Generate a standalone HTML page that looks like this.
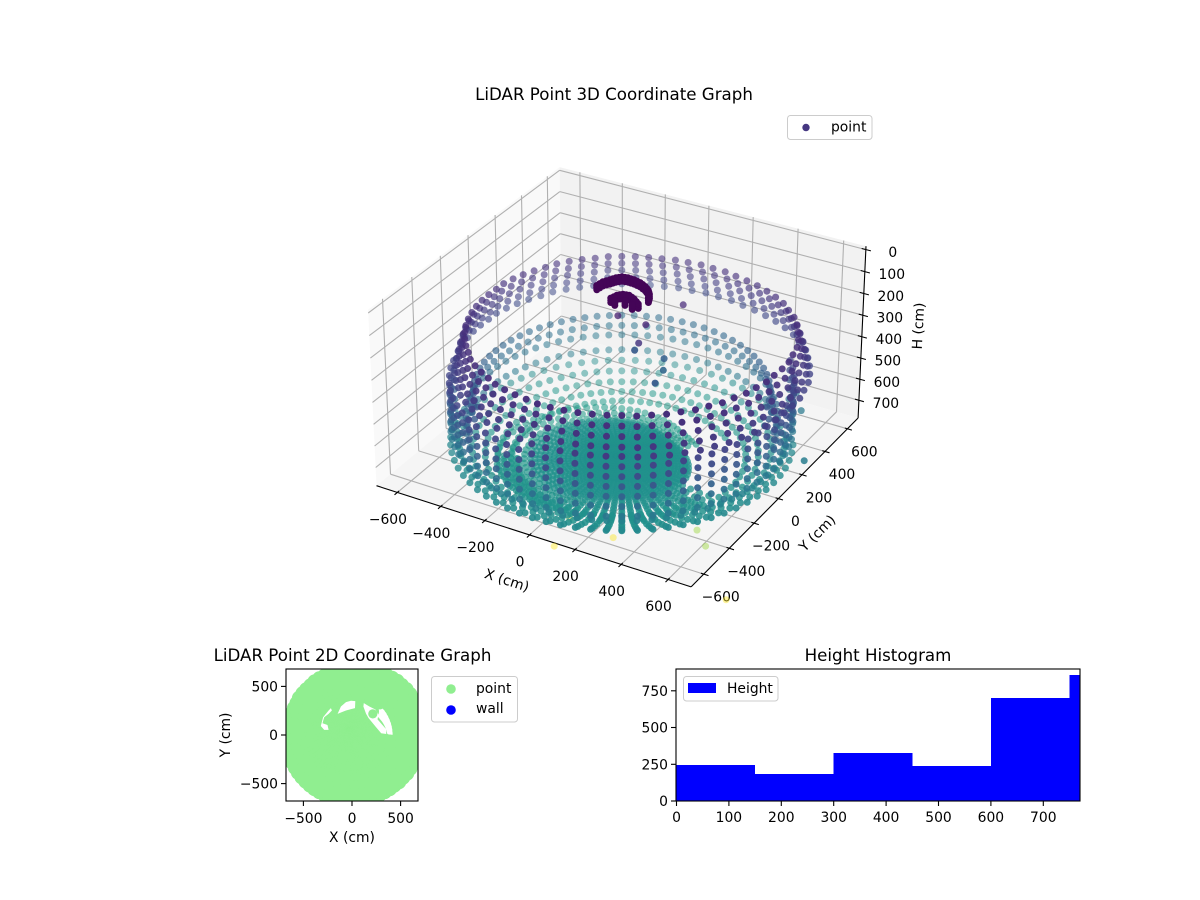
<!DOCTYPE html>
<html>
<head>
<meta charset="utf-8">
<title>LiDAR Point Graphs</title>
<style>
html,body{margin:0;padding:0;background:#fff;}
svg{display:block;}
text{font-family:"DejaVu Sans","Liberation Sans",sans-serif;font-size:13.89px;fill:#000;}
.title{font-size:16.67px;}
</style>
</head>
<body>
<svg id="chart" width="1200" height="900" viewBox="0 0 1200 900" xmlns="http://www.w3.org/2000/svg">
<defs><clipPath id="clip2d"><rect x="286" y="669" width="132" height="132"/></clipPath></defs>
<rect x="0" y="0" width="1200" height="900" fill="#ffffff"/>
<text class="title" x="614" y="100" text-anchor="middle">LiDAR Point 3D Coordinate Graph</text>
<g id="axes3d"></g>
<g id="points3d"></g>
<text transform="translate(507,580) rotate(18)" text-anchor="middle" y="5">X (cm)</text>
<text transform="translate(817,533) rotate(-45)" text-anchor="middle" y="5">Y (cm)</text>
<text transform="translate(918,326) rotate(-87)" text-anchor="middle" y="5">H (cm)</text>
<g>
<rect x="787.5" y="115.5" width="84.5" height="24" rx="3" fill="#fff" fill-opacity="0.8" stroke="#cccccc" stroke-width="1"/>
<circle cx="806" cy="127.5" r="3.7" fill="#453781"/>
<text x="831" y="131.5">point</text>
</g>

<text class="title" x="352.5" y="661" text-anchor="middle">LiDAR Point 2D Coordinate Graph</text>
<g id="plot2d" clip-path="url(#clip2d)"></g>
<g id="axes2d"></g>
<text x="352" y="842" text-anchor="middle">X (cm)</text>
<text transform="translate(225,735) rotate(-90)" text-anchor="middle" y="5">Y (cm)</text>
<g>
<rect x="431.5" y="676.5" width="86" height="45.5" rx="3" fill="#fff" fill-opacity="0.8" stroke="#cccccc" stroke-width="1"/>
<circle cx="451" cy="689" r="4.8" fill="#90ee90"/>
<text x="476" y="693">point</text>
<circle cx="451" cy="710" r="4.8" fill="#0000ff"/>
<text x="476" y="713">wall</text>
</g>

<text class="title" x="878" y="661" text-anchor="middle">Height Histogram</text>
<g id="hist"></g>
<g>
<rect x="683.5" y="676.5" width="94.5" height="24.5" rx="3" fill="#fff" fill-opacity="0.8" stroke="#cccccc" stroke-width="1"/>
<rect x="688" y="683" width="28" height="10" fill="#0000ff"/>
<text x="727" y="693">Height</text>
</g>

<script>
// ---- chart data ----
const azimuths = [0,5,10,15,20,25,30,35,40,45,50,55,60,65,70,75,80,85,90,95,100,105,110,115,120,125,130,135,140,145,150,155,160,165,170,175,180,185,190,195,200,205,210,215,220,225,230,235,240,245,250,255,260,265,270,275,280,285,290,295,300,305,310,315,320,325,330,335,340,345,350,355];
const rimScale = [1.06,1.07,1.08,1.08,1.09,1.09,1.09,1.09,1.09,1.08,1.08,1.07,1.06,1.05,1.04,1.03,1.03,1.02,1.02,1.01,1.01,1,1,1,1,1,0.99,0.99,0.99,0.99,0.98,0.98,0.98,0.98,0.98,0.97,0.97,0.97,0.97,0.97,0.97,0.97,0.97,0.97,0.97,0.97,0.98,0.98,0.98,0.98,0.99,0.99,0.99,0.99,1,1,1,1,1,1,1,1.01,1.01,1.02,1.02,1.03,1.03,1.04,1.04,1.05,1.05,1.06];
const floorScale = [1,0.98,0.96,0.94,0.92,0.9,0.88,0.86,0.84,0.82,0.8,0.78,0.78,0.78,0.78,0.8,0.82,0.84,0.86,0.88,0.9,0.92,0.94,0.96,0.98,1,1.02,1.04,1.06,1.08,1.1,1.12,1.14,1.16,1.18,1.2,1.22,1.22,1.24,1.24,1.25,1.25,1.25,1.25,1.24,1.24,1.22,1.22,1.2,1.2,1.18,1.16,1.14,1.12,1.1,1.08,1.08,1.06,1.06,1.05,1.05,1.04,1.04,1.03,1.03,1.02,1.02,1.02,1.01,1.01,1,1];
const ringRadius = [626,638,650,661,670,580,590,611,611,650,675,640,590,540,490,465,440,417,395,372,350,330,310,290,275,260,245,230,215,200,185,170,155,140,125,110,95,80,65,50,35,20,8];
const ringHeight = [232,271,310,350,386,485,539,596,668,690,718,736,759,782,800,808,815,820,820,820,820,820,820,820,820,820,820,820,820,820,820,820,820,820,820,820,820,820,820,820,820,820,820];
const ringValueFront = [0.13,0.14,0.15,0.16,0.17,0.2,0.22,0.26,0.3,0.44,0.47,0.48,0.49,0.5,0.5,0.5,0.5,0.5,0.5,0.5,0.5,0.5,0.5,0.5,0.5,0.5,0.5,0.5,0.5,0.5,0.5,0.5,0.5,0.5,0.5,0.5,0.5,0.5,0.5,0.5,0.5,0.5,0.5];
const ringValueBack = [0.14,0.16,0.18,0.2,0.23,0.36,0.38,0.4,0.42,0.44,0.46,0.48,0.5,0.52,0.53,0.54,0.54,0.55,0.55,0.55,0.55,0.55,0.55,0.5,0.5,0.5,0.5,0.5,0.5,0.5,0.5,0.5,0.5,0.5,0.5,0.5,0.5,0.5,0.5,0.5,0.5,0.5,0.5];
const frontLeftOnlyRings = [15,17,19,21];
const frontLeftAzimuthFrom = -150;
const frontLeftAzimuthTo = -20;
const floorScaleFirstRing = 18;
const wallRadius = [672,672,672,672,672,672];
const wallHeight = [430,475,520,565,610,655];
const wallValue = [0.2,0.23,0.27,0.31,0.36,0.4];
const wallAzimuthFrom = -160;
const wallAzimuthTo = 40;
const gapAzimuthFrom = [-5,-130,30,-180];
const gapAzimuthTo = [45,10,180,-170];
const gapRingFrom = [15,5,9,9];
const gapRingTo = [22,8,10,10];
const blobX = [-266.5,-264,-261.6,-253.5,-245.4,-239,-232.5,-224.1,-215.7,-203.3,-190.9,-176.5,-162.1,-145.7,-129.3,-112.6,-95.9,-82.7,-69.4,-59.7,-49.9,-43.6,-37.4,-165.8,-161.4,-156.9,-148.5,-140.1,-127.7,-115.3,-98.7,-82,-65,-48,-139.9,-105.2,-64.8];
const blobY = [262.7,282.6,302.5,316.4,330.3,343.3,356.3,365.8,375.3,377.8,380.3,379.4,378.5,374.1,369.7,360.8,351.9,341,330.1,317.2,304.4,289.5,274.6,200.4,216.9,233.4,242.9,252.3,254.9,257.5,248.6,239.7,226.3,213,187.6,207.7,194];
const blobHeights = [222,232,242];
const strayX = [100.8,52.5,100.3,114.5,243.6,284.3,304.7,-77.4,605,785,524.6,70,21.4,234,486,568,805.6];
const strayY = [308,95,-43.9,-100.5,-100,-178.4,-277.7,103.5,362,34.5,477,-635,-438.8,-471,-265.5,-347.5,-624.5];
const strayH = [230,230,230,230,230,230,230,230,600,600,600,850,850,850,850,850,850];
const strayValue = [0.12,0.1,0.15,0.27,0.3,0.33,0.28,0.08,0.4,0.42,0.4,1,0.98,1,0.85,0.85,1];
const tick3dX = [-600,-400,-200,0,200,400,600];
const tick3dY = [-600,-400,-200,0,200,400,600];
const tick3dZ = [0,100,200,300,400,500,600,700];
const hole1X = [-148,-114,-62,-10,34,31,-10,-62,-114];
const hole1Y = [217,293,338,352,348,276,266,252,231];
const hole2X = [-241,-217,-207,-241,-286,-303,-252,-241,-286,-321,-297];
const hole2Y = [252,276,252,217,183,121,103,52,52,93,183];
const hole3X = [121,179,240,272,262,352,352,300,248,172,145,117];
const hole3Y = [328,293,262,207,160,59,10,17,79,172,217,293];
const loneX = [214];
const loneY = [217];
const tick2d = [-500,0,500];
const binEdges = [0,150,300,450,600,750,900];
const binCounts = [245,184,327,238,701,857];
const histTicksX = [0,100,200,300,400,500,600,700];
const histTicksY = [0,250,500,750];

// ---- helpers ----
const NS = 'http://www.w3.org/2000/svg';
function make(tag, parent){ const e = document.createElementNS(NS, tag); parent.appendChild(e); return e; }
const LIM = 697, ZTOP = -15, ZBOT = 785;
function project(x,y,z){
  const px = x/LIM*0.5952, py = y/LIM*0.5952, pz = (385-z)/400*0.3335;
  const xv = 0.866025*px + 0.5*py;
  const yv = -0.25*px + 0.433013*py + 0.866025*pz;
  const wv = 0.433013*px - 0.75*py + 0.5*pz;
  const d = 10 - wv;
  return {x: 621.8 + 3010*xv/d, y: 365.7 - 3010*yv/d, depth: wv};
}
const anchors = [[68,1,84],[72,36,117],[65,68,135],[53,95,141],[42,120,142],[33,145,140],[34,168,132],[68,191,112],[122,209,81],[189,223,38],[253,231,37]];
function viridis(c){
  c = Math.max(0, Math.min(1, c));
  const i = Math.min(9, Math.floor(c*10)), t = c*10 - i;
  const a = anchors[i], b = anchors[i+1];
  return 'rgb(' + [0,1,2].map(k => Math.round(a[k] + (b[k]-a[k])*t)).join(',') + ')';
}
function pts(list){ return list.map(p => p.x.toFixed(1)+','+p.y.toFixed(1)).join(' '); }

// ---- 3D axes ----
const g3 = document.getElementById('axes3d');
const LT = project(-LIM,-LIM,ZTOP), LB = project(-LIM,-LIM,ZBOT), BT = project(-LIM,LIM,ZTOP), BB = project(-LIM,LIM,ZBOT);
const RT = project(LIM,LIM,ZTOP), RB = project(LIM,LIM,ZBOT), FB = project(LIM,-LIM,ZBOT);
const leftPane = make('polygon', g3);


leftPane.setAttribute('points', pts([LT,BT,BB,LB]));
leftPane.setAttribute('fill', '#f9f9f9');
const rightPane = make('polygon', g3);


rightPane.setAttribute('points', pts([BT,RT,RB,BB]));
rightPane.setAttribute('fill', '#f2f2f2');
const floorPane = make('polygon', g3);


floorPane.setAttribute('points', pts([LB,BB,RB,FB]));
floorPane.setAttribute('fill', '#f5f5f5');

function line3(parent, a, b, color, width, name){
  const l = make('line', parent);
  
  
  l.setAttribute('x1', a.x.toFixed(1)); l.setAttribute('y1', a.y.toFixed(1));
  l.setAttribute('x2', b.x.toFixed(1)); l.setAttribute('y2', b.y.toFixed(1));
  l.setAttribute('stroke', color); l.setAttribute('stroke-width', width);
  return l;
}
function label(parent, x, y, txt, anchor, name){
  const t = make('text', parent);
  
  
  t.setAttribute('x', x.toFixed(1)); t.setAttribute('y', y.toFixed(1));
  t.setAttribute('text-anchor', anchor);
  t.textContent = String(txt).replace('-', '\u2212');
  return t;
}
tick3dX.forEach(v => {
  const a = project(v,-LIM,ZBOT), b = project(v,LIM,ZBOT), c = project(v,LIM,ZTOP);
  line3(g3, a, b, '#b0b0b0', 1.1, 'x-gridline');
  line3(g3, b, c, '#b0b0b0', 1.1, 'x-gridline');
});
tick3dY.forEach(v => {
  const a = project(LIM,v,ZBOT), b = project(-LIM,v,ZBOT), c = project(-LIM,v,ZTOP);
  line3(g3, a, b, '#b0b0b0', 1.1, 'y-gridline');
  line3(g3, b, c, '#b0b0b0', 1.1, 'y-gridline');
});
tick3dZ.forEach(v => {
  const a = project(-LIM,-LIM,v), b = project(-LIM,LIM,v), c = project(LIM,LIM,v);
  line3(g3, a, b, '#b0b0b0', 1.1, 'z-gridline');
  line3(g3, b, c, '#b0b0b0', 1.1, 'z-gridline');
});
line3(g3, LB, FB, '#000', 1.1, 'x-axis-line');
line3(g3, FB, RB, '#000', 1.1, 'y-axis-line');
line3(g3, RT, RB, '#000', 1.1, 'z-axis-line');
tick3dX.forEach(v => {
  line3(g3, project(v,-LIM-20,ZBOT), project(v,-LIM+12,ZBOT), '#000', 1.1, 'x-tick');
  const p = project(v,-LIM,ZBOT);
  label(g3, p.x-9.5, p.y+31.5, v, 'middle', 'x-tick-label');
});
tick3dY.forEach(v => {
  line3(g3, project(LIM-12,v,ZBOT), project(LIM+20,v,ZBOT), '#000', 1.1, 'y-tick');
  const p = project(LIM,v,ZBOT);
  label(g3, p.x+17, p.y+27.5, v, 'middle', 'y-tick-label');
});
tick3dZ.forEach(v => {
  line3(g3, project(LIM-18,LIM,v), project(LIM+22,LIM,v), '#000', 1.1, 'z-tick');
  const p = project(LIM,LIM,v);
  label(g3, p.x+27, p.y+7.5, v, 'middle', 'z-tick-label');
});

// ---- 3D points ----
const cloud = [];
azimuths.forEach((deg, ai) => {
  const th = deg*Math.PI/180;
  const t = (1 + Math.cos(th + 60*Math.PI/180))/2;
  const signed = deg > 180 ? deg-360 : deg;
  ringRadius.forEach((r0, ri) => {
    const skip = gapAzimuthFrom.some((f,k) => signed >= f && signed <= gapAzimuthTo[k] && ri >= gapRingFrom[k] && ri <= gapRingTo[k]);
    if (skip) return;
    if (frontLeftOnlyRings.includes(ri) && (signed < frontLeftAzimuthFrom || signed > frontLeftAzimuthTo)) return;
    let r = r0;
    if (ri < 5) r = r0*rimScale[ai];
    if (ri >= floorScaleFirstRing) r = r0*floorScale[ai];
    const c = ringValueFront[ri]*t + ringValueBack[ri]*(1-t);
    cloud.push({wx:r*Math.cos(th), wy:r*Math.sin(th), wz:ringHeight[ri], c:c});
  });
  if (signed >= wallAzimuthFrom && signed <= wallAzimuthTo) {
    wallRadius.forEach((r, wi) => {
      cloud.push({wx:r*Math.cos(th), wy:r*Math.sin(th), wz:wallHeight[wi], c:wallValue[wi]});
    });
  }
});
blobX.forEach((x,i) => {
  blobHeights.forEach(h => {
    cloud.push({wx:x, wy:blobY[i], wz:h, c:0.01, dark:true});
  });
});
strayX.forEach((x,i) => {
  cloud.push({wx:x, wy:strayY[i], wz:strayH[i], c:strayValue[i], stray:true});
});
cloud.forEach(p => { const q = project(p.wx,p.wy,p.wz); p.sx=q.x; p.sy=q.y; p.depth=q.depth; });
cloud.sort((a,b) => a.depth-b.depth);
const g3p = document.getElementById('points3d');
cloud.forEach(p => {
  const el = make('circle', g3p);
  
  
  el.setAttribute('cx', p.sx.toFixed(1));
  el.setAttribute('cy', p.sy.toFixed(1));
  el.setAttribute('r', '3.5');
  el.setAttribute('fill', viridis(p.c));
  let a = 0.5 + 0.5*(p.depth+0.555)/1.05;
  if (p.c > 0.75) a = 0.45;
  if (p.dark) a = 1;
  el.setAttribute('fill-opacity', Math.max(0.35, Math.min(1, a)).toFixed(2));
});

// ---- 2D panel ----
const x2 = v => 352 + v*0.0973;
const y2 = v => 735 - v*0.0973;
const g2 = document.getElementById('plot2d');
cloud.forEach(p => {
  if (p.dark || p.stray) return;
  const el = make('circle', g2);
  
  
  el.setAttribute('cx', x2(p.wx).toFixed(1));
  el.setAttribute('cy', y2(p.wy).toFixed(1));
  el.setAttribute('r', '7.2');
  el.setAttribute('fill', '#90ee90');
});
[[hole1X,hole1Y],[hole2X,hole2Y],[hole3X,hole3Y]].forEach(pair => {
  const el = make('polygon', g2);
  
  
  el.setAttribute('points', pair[0].map((v,i) => x2(v).toFixed(1)+','+y2(pair[1][i]).toFixed(1)).join(' '));
  el.setAttribute('fill', '#ffffff');
});
loneX.forEach((v,i) => {
  const el = make('circle', g2);
  
  
  el.setAttribute('cx', x2(v).toFixed(1));
  el.setAttribute('cy', y2(loneY[i]).toFixed(1));
  el.setAttribute('r', '4.6');
  el.setAttribute('fill', '#90ee90');
});
const a2 = document.getElementById('axes2d');
const frame2 = make('rect', a2);


frame2.setAttribute('x', '286'); frame2.setAttribute('y', '669');
frame2.setAttribute('width', '132'); frame2.setAttribute('height', '132');
frame2.setAttribute('fill', 'none'); frame2.setAttribute('stroke', '#000'); frame2.setAttribute('stroke-width', '1.1');
tick2d.forEach(v => {
  line3(a2, {x:x2(v),y:801}, {x:x2(v),y:806}, '#000', 1.1, 'x-tick-2d');
  label(a2, x2(v), 823, v, 'middle', 'x-tick-label-2d');
  line3(a2, {x:286,y:y2(v)}, {x:281,y:y2(v)}, '#000', 1.1, 'y-tick-2d');
  label(a2, 278, y2(v)+5, v, 'end', 'y-tick-label-2d');
});

// ---- Histogram ----
const xH = v => 676.5 + Math.min(v,770)*0.524;
const yH = v => 801 - v*0.147;
const gh = document.getElementById('hist');
binCounts.forEach((n,i) => {
  const el = make('rect', gh);
  
  
  el.setAttribute('x', xH(binEdges[i]).toFixed(1));
  el.setAttribute('y', yH(n).toFixed(1));
  el.setAttribute('width', (xH(binEdges[i+1])-xH(binEdges[i])).toFixed(1));
  el.setAttribute('height', (801-yH(n)).toFixed(1));
  el.setAttribute('fill', '#0000ff');
  el.setAttribute('shape-rendering', 'crispEdges');
});
const frameH = make('rect', gh);


frameH.setAttribute('x', '676'); frameH.setAttribute('y', '669');
frameH.setAttribute('width', '404'); frameH.setAttribute('height', '132');
frameH.setAttribute('fill', 'none'); frameH.setAttribute('stroke', '#000'); frameH.setAttribute('stroke-width', '1.1');
histTicksX.forEach(v => {
  line3(gh, {x:xH(v),y:801}, {x:xH(v),y:806}, '#000', 1.1, 'x-tick-histogram');
  label(gh, xH(v), 822, v, 'middle', 'x-tick-label-histogram');
});
histTicksY.forEach(v => {
  line3(gh, {x:676,y:yH(v)}, {x:671,y:yH(v)}, '#000', 1.1, 'y-tick-histogram');
  label(gh, 668, yH(v)+5, v, 'end', 'y-tick-label-histogram');
});
</script>
</svg>
</body>
</html>
